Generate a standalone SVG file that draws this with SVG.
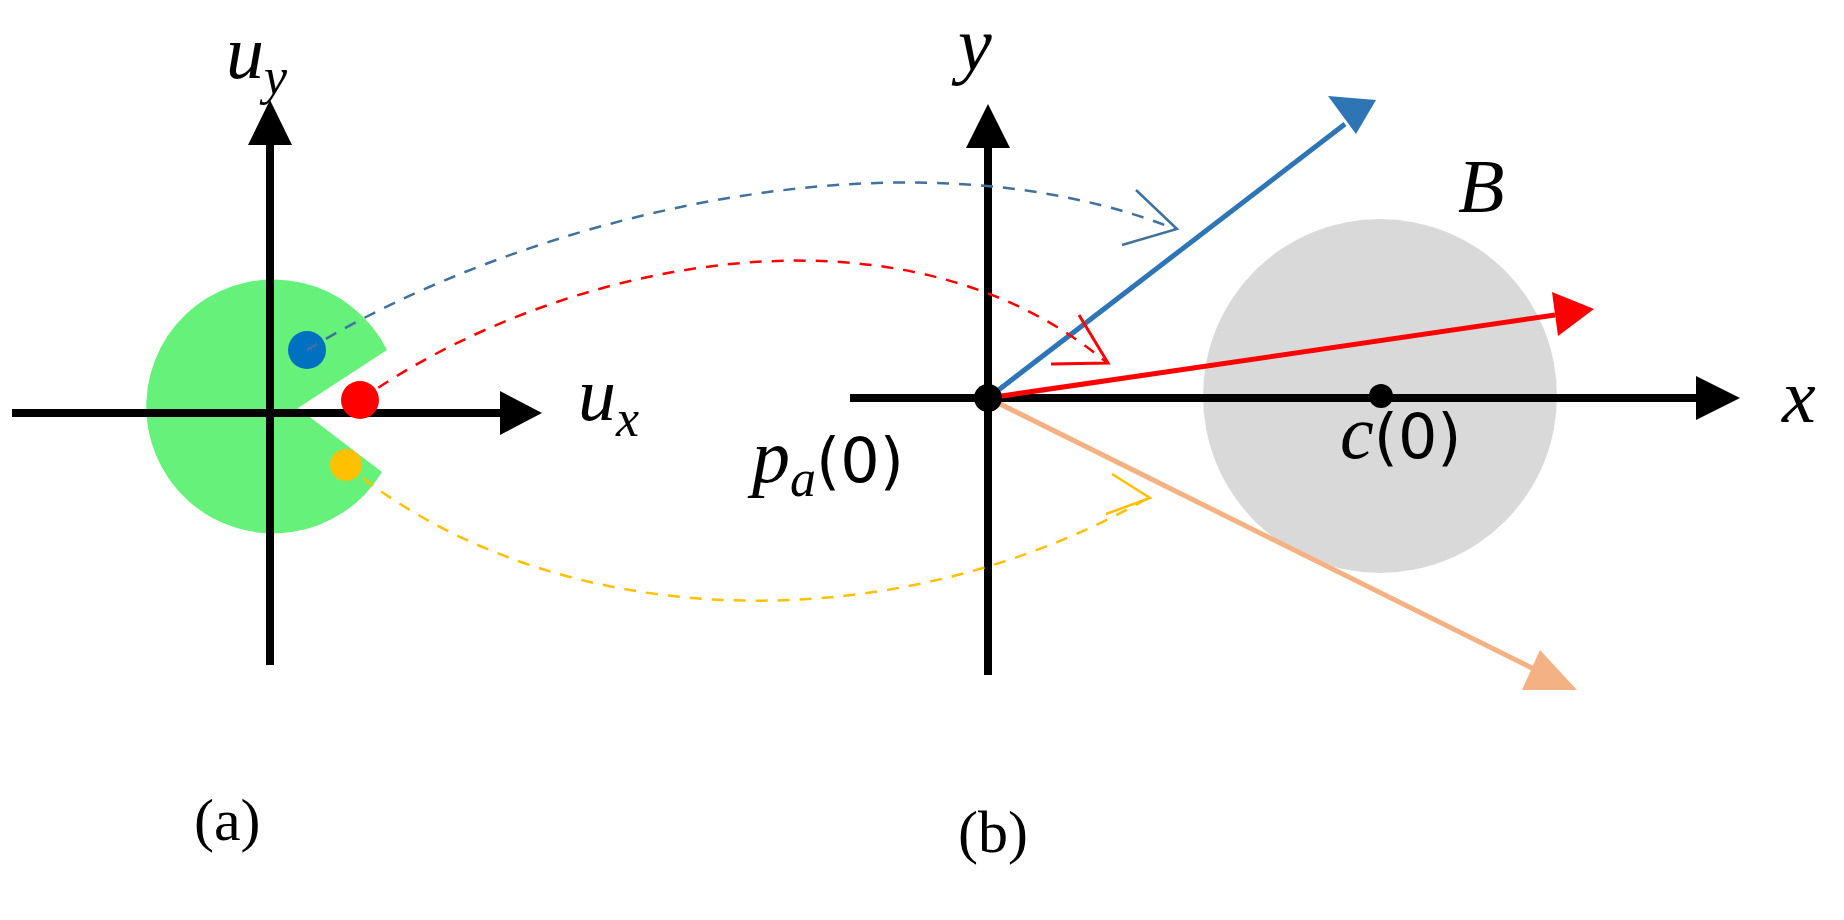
<svg xmlns="http://www.w3.org/2000/svg" width="1844" height="920" viewBox="0 0 1844 920">
<style>
.ax{stroke:#000;stroke-width:8;fill:none}
.lbl{font-family:"Liberation Serif","DejaVu Serif",serif;font-style:italic;font-size:76px;fill:#000}
.num{font-family:"DejaVu Sans",sans-serif;font-style:normal;font-size:62px}
.cap{font-family:"Liberation Serif",serif;font-size:60px;fill:#000}
.dash{fill:none;stroke-width:2.5;stroke-dasharray:12 10}
</style>
<rect width="1844" height="920" fill="#fff"/>
<g id="panel-a">
<path d="M298,408 L387,350 A127 127 0 1 0 382,472 Z" fill="#66f27a"/>
<line class="ax" x1="270" y1="665" x2="270" y2="140"/>
<path d="M248,145 L270,100 L292,145z"/>
<line class="ax" x1="12" y1="413" x2="505" y2="413"/>
<path d="M500,391 L542,413 L500,435z"/>
<circle cx="307" cy="350" r="19" fill="#0070c0"/>
<circle cx="360" cy="400" r="19" fill="#ff0000"/>
<circle cx="346" cy="465" r="16" fill="#ffc000"/>
<text class="lbl" x="226" y="78">u<tspan font-size="52" dy="16">y</tspan></text>
<text class="lbl" x="578" y="420">u<tspan font-size="52" dy="16">x</tspan></text>
<text class="cap" x="194" y="840">(a)</text>
</g>
<g id="panel-b">
<circle cx="1380" cy="396" r="177" fill="#d9d9d9"/>
<line class="ax" x1="988" y1="675" x2="988" y2="145"/>
<path d="M966,148 L988,104 L1010,148z"/>
<line class="ax" x1="850" y1="398" x2="1700" y2="398"/>
<path d="M1696,376 L1740,398 L1696,420z"/>
<line x1="988" y1="398" x2="1345" y2="124" stroke="#2e75b6" stroke-width="5"/>
<path d="M1328,96 L1376,100 L1356,134z" fill="#2e75b6"/>
<line x1="988" y1="398" x2="1555" y2="315" stroke="#ff0000" stroke-width="5"/>
<path d="M1552,292 L1594,309 L1558,336z" fill="#ff0000"/>
<line x1="988" y1="398" x2="1540" y2="672" stroke="#f4b183" stroke-width="5"/>
<path d="M1540,650 L1577,690 L1522,690z" fill="#f4b183"/>
<circle cx="988" cy="398" r="14"/>
<circle cx="1381" cy="396" r="12"/>
<text class="lbl" x="958" y="70">y</text>
<text class="lbl" x="1458" y="212">B</text>
<text class="lbl" x="1782" y="422">x</text>
<text class="lbl" x="752" y="482">p<tspan font-size="52" dy="14">a</tspan><tspan class="num" dy="-14">(0)</tspan></text>
<text class="lbl" x="1340" y="458">c<tspan class="num">(0)</tspan></text>
<text class="cap" x="958" y="852">(b)</text>
</g>
<g id="connectors">
<path class="dash" stroke="#41719c" d="M307,350 C520,220 900,120 1175,229"/>
<polyline points="1136,190 1177,229 1122,245" fill="none" stroke="#41719c" stroke-width="2.5"/>
<path class="dash" stroke="#ff0000" d="M360,400 C560,260 900,190 1106,362"/>
<polyline points="1079,315 1108,363 1051,364" fill="none" stroke="#ff0000" stroke-width="3"/>
<path class="dash" stroke="#ffc000" d="M346,465 C560,640 900,640 1148,498"/>
<polyline points="1112,474 1150,498 1106,514" fill="none" stroke="#ffc000" stroke-width="2.5"/>
</g>
</svg>
